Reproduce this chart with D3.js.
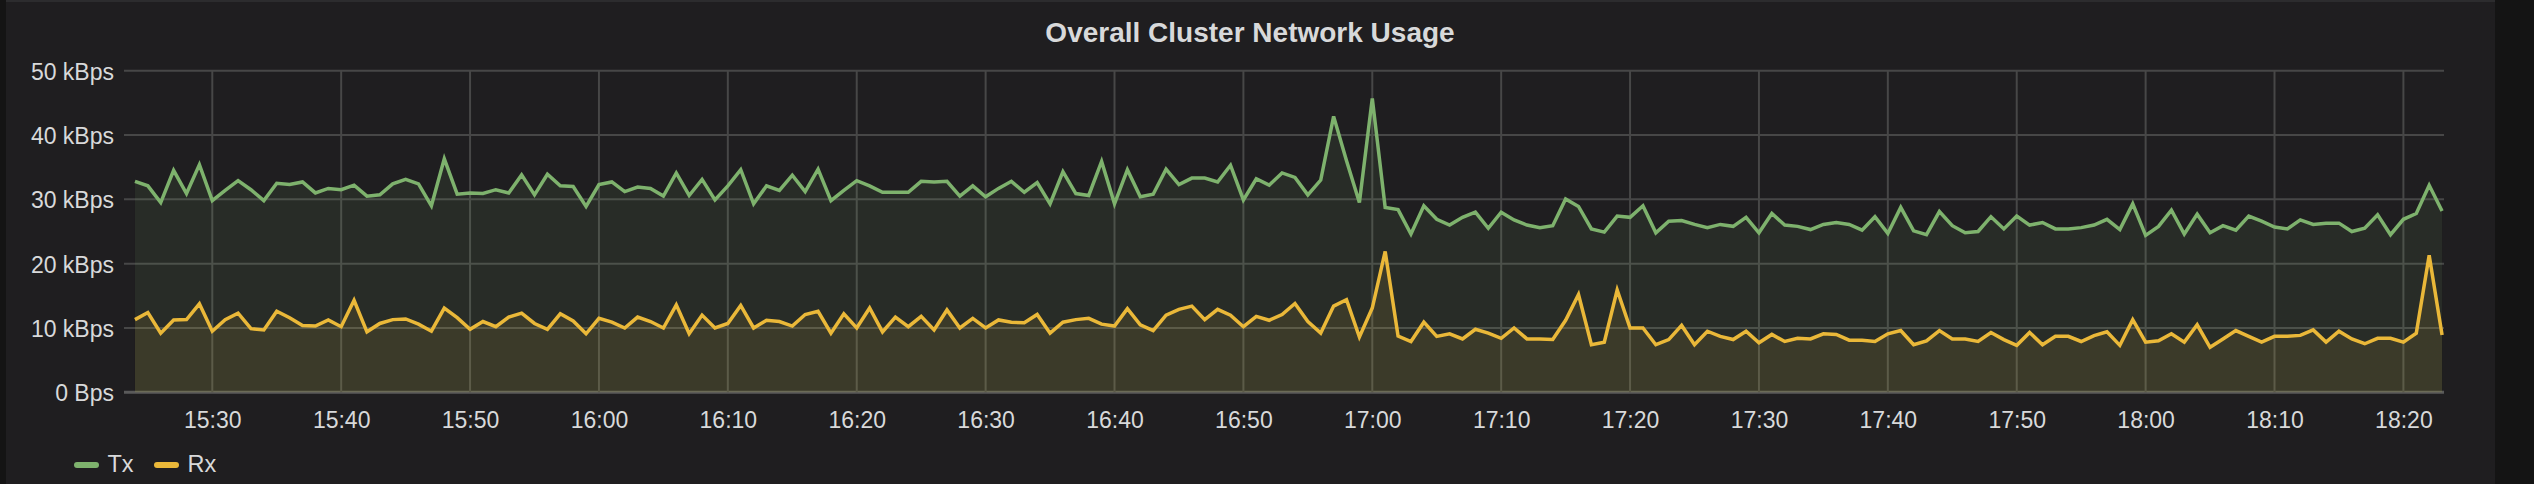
<!DOCTYPE html>
<html>
<head>
<meta charset="utf-8">
<script src="https://cdn.jsdelivr.net/npm/d3@7"></script>
<style>
  html, body { margin: 0; padding: 0; background: #141414; }
  svg { display: block; }
  text { font-family: "Liberation Sans", Arial, sans-serif; }
</style>
</head>
<body>
<svg id="chart" width="2534" height="484"></svg>
<script>
// ---- data ----
const title = "Overall Cluster Network Usage";
const seriesNames = ["Tx", "Rx"];
const seriesColors = ["#7EB26D", "#EAB839"];
const startTime = "15:24"; // first sample, one sample per minute
const txValues = [
  32.8, 32.1, 29.5, 34.5, 30.9, 35.4, 29.8, 31.4, 32.9, 31.5, 29.8, 32.5, 32.3, 32.7, 31.0, 31.7, 31.5, 32.2, 30.5, 30.7,
  32.4, 33.1, 32.4, 29.0, 36.3, 30.8, 31.0, 30.9, 31.5, 31.0, 33.8, 30.7, 33.9, 32.1, 32.0, 28.9, 32.3, 32.7, 31.2, 31.9,
  31.7, 30.5, 34.1, 30.6, 33.1, 29.9, 32.1, 34.6, 29.3, 32.1, 31.4, 33.75, 31.2, 34.7, 29.8, 31.4, 32.9, 32.1, 31.1, 31.1,
  31.1, 32.8, 32.7, 32.8, 30.5, 32.1, 30.4, 31.7, 32.8, 31.1, 32.6, 29.3, 34.3, 30.9, 30.6, 35.9, 29.3, 34.6, 30.4, 30.8,
  34.7, 32.3, 33.3, 33.3, 32.7, 35.3, 29.9, 33.2, 32.2, 34.1, 33.4, 30.7, 33.0, 42.9, 36.0, 29.5, 45.7, 28.75, 28.4, 24.6,
  29.0, 26.9, 26.0, 27.2, 28.0, 25.5, 28.0, 26.8, 26.0, 25.6, 25.9, 30.05, 28.9, 25.4, 24.9, 27.4, 27.2, 29.0, 24.8, 26.6,
  26.7, 26.1, 25.6, 26.1, 25.8, 27.2, 24.8, 27.8, 26.0, 25.8, 25.3, 26.1, 26.4, 26.1, 25.2, 27.3, 24.7, 28.75, 25.1, 24.5,
  28.1, 25.9, 24.8, 25.0, 27.3, 25.4, 27.4, 26.0, 26.4, 25.4, 25.4, 25.6, 26.0, 26.9, 25.3, 29.3, 24.4, 25.8, 28.3, 24.6,
  27.7, 24.8, 25.9, 25.2, 27.4, 26.6, 25.7, 25.4, 26.8, 26.1, 26.3, 26.3, 25.0, 25.5, 27.6, 24.5, 26.9, 27.8, 32.2, 28.2
];
const rxValues = [
  11.3, 12.4, 9.2, 11.25, 11.3, 13.75, 9.5, 11.3, 12.3, 9.9, 9.7, 12.6, 11.6, 10.4, 10.3, 11.25, 10.2, 14.3, 9.4, 10.7,
  11.3, 11.4, 10.6, 9.5, 13.1, 11.6, 9.8, 11.0, 10.2, 11.7, 12.3, 10.7, 9.8, 12.2, 11.1, 9.1, 11.5, 10.9, 10.0, 11.7,
  11.0, 10.0, 13.6, 9.1, 12.0, 10.0, 10.7, 13.5, 10.0, 11.2, 11.0, 10.3, 12.1, 12.6, 9.2, 12.2, 10.0, 13.1, 9.4, 11.7,
  10.2, 11.8, 9.7, 12.8, 10.0, 11.5, 10.0, 11.25, 10.9, 10.8, 12.1, 9.2, 10.9, 11.3, 11.5, 10.6, 10.3, 13.0, 10.5, 9.6,
  12.0, 12.9, 13.4, 11.3, 12.9, 12.0, 10.2, 11.8, 11.2, 12.1, 13.8, 11.0, 9.2, 13.4, 14.4, 8.6, 13.1, 21.9, 8.75, 7.9,
  10.9, 8.7, 9.1, 8.3, 9.8, 9.2, 8.4, 10.0, 8.3, 8.3, 8.2, 11.2, 15.2, 7.4, 7.8, 15.9, 10.0, 10.0, 7.4, 8.2,
  10.4, 7.4, 9.5, 8.7, 8.2, 9.5, 7.7, 9.0, 7.9, 8.4, 8.3, 9.1, 9.0, 8.1, 8.1, 7.9, 9.1, 9.6, 7.4, 8.0,
  9.6, 8.3, 8.3, 7.9, 9.3, 8.2, 7.3, 9.3, 7.4, 8.7, 8.7, 7.9, 8.8, 9.4, 7.3, 11.3, 7.8, 8.0, 9.1, 7.8,
  10.5, 7.0, 8.3, 9.6, 8.7, 7.8, 8.7, 8.7, 8.85, 9.7, 7.8, 9.5, 8.3, 7.55, 8.4, 8.4, 7.8, 9.2, 21.3, 8.9
];
const xDomain = ["15:23:09", "18:23:09"];
const xTickLabels = ["15:30","15:40","15:50","16:00","16:10","16:20","16:30","16:40","16:50","17:00","17:10","17:20","17:30","17:40","17:50","18:00","18:10","18:20"];
const yTickValues = [0, 10, 20, 30, 40, 50];
const yTickLabels = ["0 Bps", "10 kBps", "20 kBps", "30 kBps", "40 kBps", "50 kBps"];

// ---- helpers ----
const parseHMS = d3.timeParse("%Y-%m-%d %H:%M:%S");
const parseHM = d3.timeParse("%Y-%m-%d %H:%M");
const day = "2017-01-01";
const t0 = parseHM(day + " " + startTime);
const times = txValues.map((_, i) => d3.timeMinute.offset(t0, i));
const series = [
  { name: seriesNames[0], color: seriesColors[0], values: txValues },
  { name: seriesNames[1], color: seriesColors[1], values: rxValues }
];

const svg = d3.select("#chart");
const W = 2534, H = 484;

// panel
svg.append("rect").attr("x", 0).attr("y", 0).attr("width", W).attr("height", H).attr("fill", "#141414");
svg.append("rect").attr("x", 6).attr("y", 0).attr("width", 2489).attr("height", H).attr("fill", "#1f1e20");
svg.append("rect").attr("x", 6).attr("y", 0).attr("width", 2489).attr("height", 2).attr("fill", "#2c2c2e");

// title
svg.append("text").attr("x", 1250).attr("y", 42).attr("text-anchor", "middle")
  .attr("font-size", 28).attr("font-weight", "bold").attr("fill", "#d8d9da").text(title);

// scales
const x = d3.scaleTime()
  .domain(xDomain.map(s => parseHMS(day + " " + s)))
  .range([124, 2444]);
const y = d3.scaleLinear().domain([0, 50]).range([392.3, 70.7]);

// grid
const grid = svg.append("g");
grid.selectAll("line.h").data(yTickValues).join("line")
  .attr("x1", 124).attr("x2", 2444)
  .attr("y1", d => y(d)).attr("y2", d => y(d))
  .attr("stroke", d => d === 0 ? "#5a5a5a" : "#474747").attr("stroke-width", d => d === 0 ? 3 : 2);
const xTicks = xTickLabels.map(s => parseHM(day + " " + s));
grid.selectAll("line.v").data(xTicks).join("line")
  .attr("x1", d => x(d)).attr("x2", d => x(d))
  .attr("y1", y(50)).attr("y2", y(0))
  .attr("stroke", "#474747").attr("stroke-width", 2);

// axes labels via d3 axes
const yAxis = d3.axisLeft(y).tickValues(yTickValues).tickSize(0).tickPadding(0)
  .tickFormat((d, i) => yTickLabels[i]);
const gy = svg.append("g").attr("transform", "translate(114,0)").call(yAxis);
gy.select(".domain").remove();
gy.selectAll("text").attr("font-size", 23).attr("fill", "#d8d9da")
  .attr("font-family", "Liberation Sans, Arial, sans-serif")
  .attr("dy", null).attr("dominant-baseline", "auto").attr("y", 8.5);

const xAxis = d3.axisBottom(x).tickValues(xTicks).tickSize(0).tickPadding(0)
  .tickFormat((d, i) => xTickLabels[i]);
const gx = svg.append("g").attr("transform", "translate(0,0)").call(xAxis);
gx.select(".domain").remove();
gx.selectAll("text").attr("font-size", 23).attr("fill", "#d8d9da")
  .attr("font-family", "Liberation Sans, Arial, sans-serif")
  .attr("dy", null).attr("y", 428);

// series
const area = d3.area().x((d, i) => x(times[i])).y0(y(0)).y1(d => y(d)).curve(d3.curveLinear);
const line = d3.line().x((d, i) => x(times[i])).y(d => y(d)).curve(d3.curveLinear);
const plot = svg.append("g");
series.forEach(s => {
  plot.append("path").datum(s.values).attr("d", area)
    .attr("fill", s.color).attr("fill-opacity", 0.1);
});
series.forEach(s => {
  plot.append("path").datum(s.values).attr("d", line)
    .attr("fill", "none").attr("stroke", s.color).attr("stroke-width", 3.5)
    .attr("stroke-linejoin", "miter").attr("stroke-miterlimit", 4);
});

// legend
const legendX = [74, 154];
const lg = svg.append("g");
series.forEach((s, i) => {
  lg.append("rect").attr("x", legendX[i]).attr("y", 462).attr("width", 25).attr("height", 6)
    .attr("rx", 3).attr("fill", s.color);
  lg.append("text").attr("x", legendX[i] + 33.5).attr("y", 471.5)
    .attr("font-size", 23.5).attr("fill", "#d8d9da").text(s.name);
});
</script>
</body>
</html>
